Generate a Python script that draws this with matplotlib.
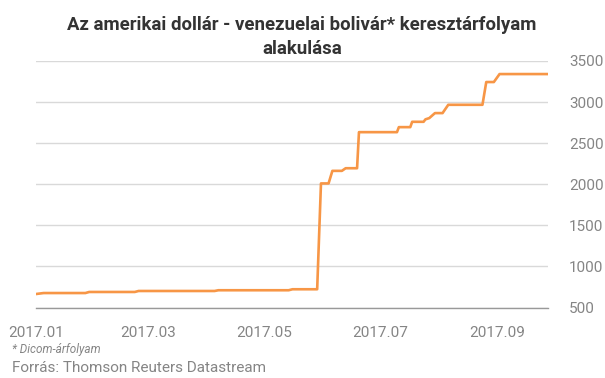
import matplotlib
matplotlib.use("Agg")
import matplotlib.pyplot as plt
import pandas as pd

# =========================
# DATA
# =========================
dates = [
    "2017-01-01", "2017-01-05", "2017-01-27", "2017-01-29", "2017-02-22",
    "2017-02-24", "2017-04-05", "2017-04-07", "2017-05-14", "2017-05-16",
    "2017-05-29", "2017-05-31", "2017-06-04", "2017-06-06", "2017-06-11",
    "2017-06-13", "2017-06-19", "2017-06-20", "2017-07-10", "2017-07-11",
    "2017-07-17", "2017-07-18", "2017-07-24", "2017-07-25", "2017-07-27",
    "2017-07-30", "2017-08-03", "2017-08-06", "2017-08-24", "2017-08-26",
    "2017-08-30", "2017-09-02", "2017-09-27",
]
rates = [
    664, 676, 676, 689, 689,
    701, 701, 710, 710, 722,
    722, 2010, 2010, 2163, 2163,
    2195, 2195, 2634, 2634, 2695,
    2695, 2760, 2760, 2790, 2805,
    2866, 2866, 2967, 2967, 3244,
    3244, 3341, 3341,
]
y_ticks = [500, 1000, 1500, 2000, 2500, 3000, 3500]
x_ticks = ["2017-01-01", "2017-03-01", "2017-05-01", "2017-07-01", "2017-09-01"]
x_labels = ["2017.01", "2017.03", "2017.05", "2017.07", "2017.09"]

title_1 = "Az amerikai dollár - venezuelai bolivár* keresztárfolyam"
title_2 = "alakulása"
note = "* Dicom-árfolyam"
source = "Forrás: Thomson Reuters Datastream"

# =========================
# STYLE
# =========================
plt.rcParams['font.family'] = ['Roboto', 'DejaVu Sans']
line_color = "#F79646"
grid_color = "#D9D9D9"
label_color = "#858585"

x = pd.to_datetime(dates)

fig = plt.figure(figsize=(6.05, 3.78), dpi=100)
ax = fig.add_axes([36 / 605, (378 - 307.5) / 378, 512 / 605, 246.5 / 378])

ax.plot(x, rates, color=line_color, linewidth=1.9, solid_joinstyle="round", zorder=3)

ax.set_ylim(500, 3500)
ax.set_xlim(pd.Timestamp("2017-01-01"), pd.Timestamp("2017-09-27 12:00"))

ax.set_yticks(y_ticks)
ax.set_xticks(pd.to_datetime(x_ticks))
ax.set_xticklabels(x_labels)

ax.yaxis.tick_right()
ax.grid(axis="y", color=grid_color, linewidth=1)
ax.grid(axis="x", visible=False)
for s in ["top", "left", "right"]:
    ax.spines[s].set_visible(False)
ax.spines["bottom"].set_color("#999999")
ax.spines["bottom"].set_linewidth(1)
ax.set_axisbelow(True)

ax.tick_params(axis="both", length=0, labelsize=11, labelcolor=label_color)
ax.tick_params(axis="y", pad=15)
ax.tick_params(axis="x", pad=13)
for lbl in ax.get_yticklabels():
    lbl.set_horizontalalignment("left")

# title, two lines
fig.text(302 / 605, 1 - 30 / 378, title_1, ha="center", va="baseline",
         fontsize=13.4, fontweight="bold", color="#333333")
fig.text(302 / 605, 1 - 54 / 378, title_2, ha="center", va="baseline",
         fontsize=13.4, fontweight="bold", color="#333333")

fig.text(12 / 605, 1 - 353 / 378, note, ha="left", va="baseline",
         fontsize=8.5, style="italic", color=label_color)
fig.text(12 / 605, 1 - 372 / 378, source, ha="left", va="baseline",
         fontsize=11, color=label_color)

plt.savefig("out.png", dpi=100)
